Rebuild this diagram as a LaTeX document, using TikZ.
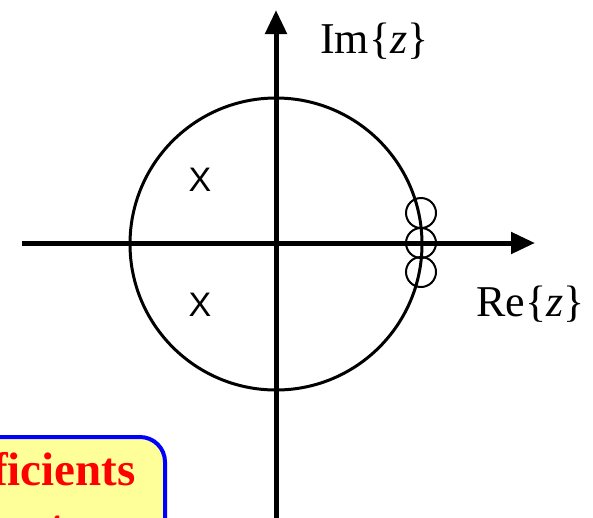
\documentclass[tikz,border=0pt]{standalone}
\usepackage{fontspec}
\setmainfont{Liberation Serif}
\newfontfamily\arialfont{Liberation Sans}
\usetikzlibrary{arrows.meta}
\definecolor{boxyellow}{RGB}{255,255,153}
\begin{document}
\begin{tikzpicture}[x=1pt,y=-1pt,
  axis/.style={line width=5pt,-{Triangle[length=24pt,width=21pt]}},
  unitc/.style={line width=3pt},
  zeroc/.style={line width=2pt},
  polemark/.style={font=\arialfont\fontsize{34}{34}\selectfont,inner sep=0pt},
  lbl/.style={font=\fontsize{44}{44}\selectfont,inner sep=0pt,anchor=base west},
  notetext/.style={inner sep=0pt,text=red,font=\bfseries\fontsize{47}{47}\selectfont},
  notebox/.style={draw=blue,line width=4pt,fill=boxyellow,rounded corners=25pt}]
\useasboundingbox (0,0) rectangle (593,517);
\clip (0,0) rectangle (593,517);
% note box (clipped)
\node[notebox,minimum width=220pt,minimum height=120pt,anchor=north east] (note) at (167,435) {};
\node[notetext,anchor=base east] (t1) at (136,485) {Coefficients};
\node[notetext,anchor=base west] (t2) at (49,542) {t};
% unit circle
\node[draw,unitc,circle,minimum size=292pt,inner sep=0pt] (uc) at (276,244) {};
% axes
\coordinate (xl) at (22,243);
\coordinate (xr) at (535,243);
\coordinate (yb) at (276,530);
\coordinate (yt) at (276,10);
\draw[axis] (xl) -- (xr);
\draw[axis] (yb) -- (yt);
% zeros
\node[draw,zeroc,circle,minimum size=30pt,inner sep=0pt] (z1) at (421,213) {};
\node[draw,zeroc,circle,minimum size=30pt,inner sep=0pt] (z2) at (421,243) {};
\node[draw,zeroc,circle,minimum size=30pt,inner sep=0pt] (z3) at (421,272) {};
% poles
\node[polemark] (p1) at (200,180) {X};
\node[polemark] (p2) at (200,305) {X};
% labels
\node[lbl] (im) at (320,53) {Im\{{\itshape z}\}};
\node[lbl] (re) at (476,316) {Re\{{\itshape z}\}};
\end{tikzpicture}
\end{document}
